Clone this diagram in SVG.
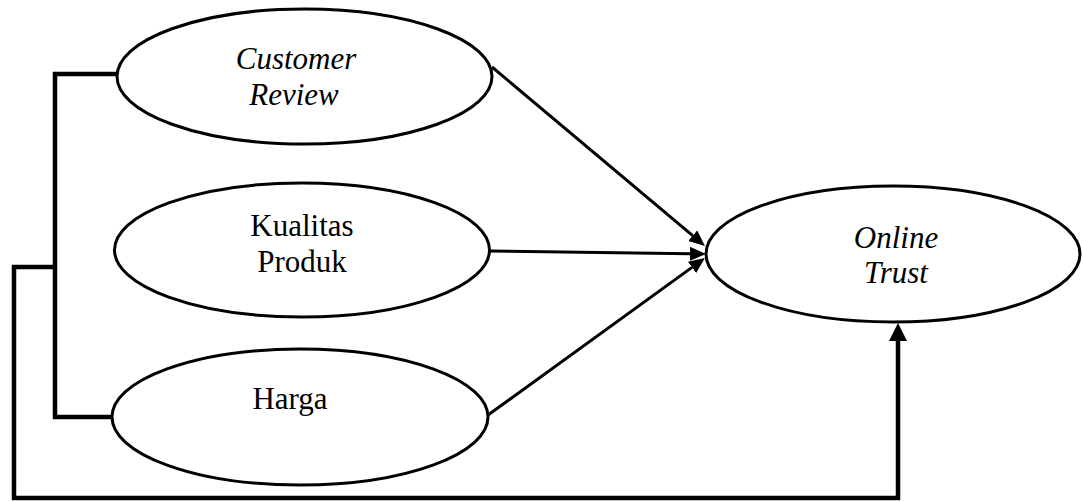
<svg xmlns="http://www.w3.org/2000/svg" width="1083" height="501" viewBox="0 0 1083 501">
<style>
.node{fill:#fff;stroke:#000;stroke-width:3}
.t{font-family:"Liberation Serif","Times New Roman",serif;font-size:31px;fill:#000;text-anchor:middle}
.i{font-style:italic}
.c{fill:none;stroke:#000;stroke-width:3}
.b{fill:none;stroke:#000;stroke-width:4.5}
</style>
<defs>
<marker id="ah" markerUnits="userSpaceOnUse" markerWidth="18" markerHeight="14" refX="0" refY="7" orient="auto">
<path d="M0,0 L16,7 L0,14 Z" fill="#000"/>
</marker>
<marker id="ahv" markerUnits="userSpaceOnUse" markerWidth="20" markerHeight="18" refX="0" refY="9" orient="auto">
<path d="M0,0 L18,9 L0,18 Z" fill="#000"/>
</marker>
</defs>
<g id="connectors">
<path class="b" d="M117,74 H55 V417 H112"/>
<path class="b" d="M55,267 H14 V498 H898 V341" marker-end="url(#ahv)"/>
<line class="c" x1="492" y1="67" x2="692.7" y2="235.7" marker-end="url(#ah)"/>
<line class="c" x1="490" y1="251" x2="690" y2="253.8" marker-end="url(#ah)"/>
<line class="c" x1="488" y1="415" x2="692" y2="267.4" marker-end="url(#ah)"/>
</g>
<g id="customer-review">
<ellipse class="node" cx="304.5" cy="76.5" rx="187.5" ry="67.5"/>
<text class="t i" x="296" y="69">Customer</text>
<text class="t i" x="294" y="105">Review</text>
</g>
<g id="kualitas-produk">
<ellipse class="node" cx="302" cy="250" rx="187.5" ry="67"/>
<text class="t" x="302" y="236">Kualitas</text>
<text class="t" x="302" y="272">Produk</text>
</g>
<g id="harga">
<ellipse class="node" cx="300" cy="417" rx="188" ry="68"/>
<text class="t" x="290" y="409">Harga</text>
</g>
<g id="online-trust">
<ellipse class="node" cx="893" cy="254" rx="187" ry="68"/>
<text class="t i" x="896" y="248">Online</text>
<text class="t i" x="896" y="283">Trust</text>
</g>
</svg>
